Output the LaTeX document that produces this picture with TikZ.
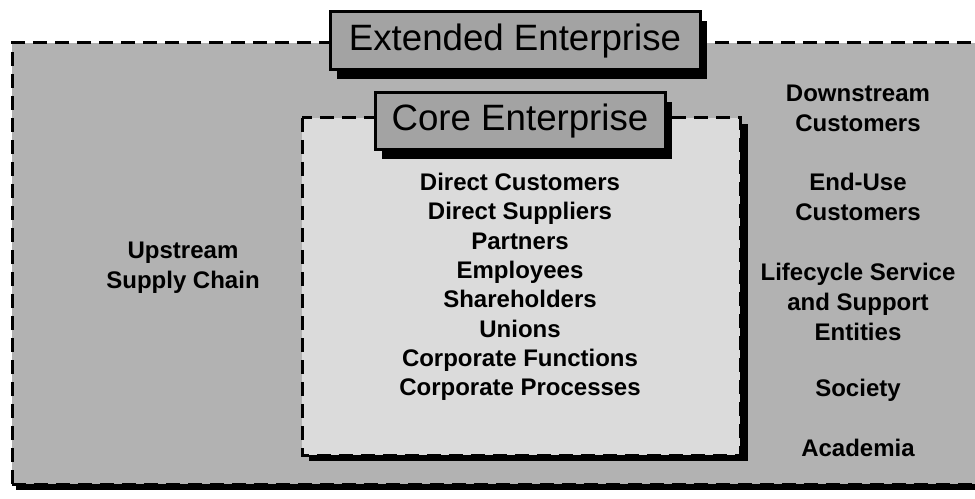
\documentclass[tikz,border=0pt]{standalone}
\usepackage{fontspec}
\setmainfont{Liberation Sans}
\usetikzlibrary{shadows}

\definecolor{extgray}{gray}{0.70}
\definecolor{coregray}{gray}{0.86}
\definecolor{titlegray}{gray}{0.64}

\begin{document}
\begin{tikzpicture}[
    x=0.75pt, y=-0.75pt,
    edge/.style={line width=2.25pt, dash pattern=on 10.5pt off 6pt},
    title/.style={draw=black, line width=2.25pt, fill=titlegray,
                  inner sep=0pt, font=\fontsize{27.5}{30}\selectfont,
                  drop shadow={shadow xshift=5.5pt, shadow yshift=-6.5pt,
                               fill=black, opacity=1}},
    lbl/.style={align=center, font=\fontsize{18}{22.5}\selectfont\bfseries},
]
\useasboundingbox (0,0) rectangle (975,499);

% extended enterprise area
\fill[black] (16,47) rectangle (994,490);
\fill[extgray] (12,43) rectangle (990,484);
\draw[edge] (12,484) -- (12,43) -- (990,43);
\draw[edge] (12,484) -- (990,484);

% core enterprise area
\fill[black] (309,124) rectangle (748,461);
\fill[coregray] (302,118) rectangle (740,455);
\draw[edge] (302,118) rectangle (740,455);

% titles
\node[title, minimum width=277.5pt, minimum height=43.5pt]
  (ext) at (515,41) {Extended Enterprise};
\node[title, minimum width=217.5pt, minimum height=42.75pt]
  (core) at (520,121.5) {Core Enterprise};

% left column
\node[lbl] (up) at (183,268) {Upstream\\Supply Chain};

% core list
\node[lbl, font=\fontsize{18}{22}\selectfont\bfseries] (members) at (520,287)
  {Direct Customers\\Direct Suppliers\\Partners\\Employees\\Shareholders\\%
   Unions\\Corporate Functions\\Corporate Processes};

% right column
\node[lbl] (down) at (858,108) {Downstream\\Customers};
\node[lbl] (enduse) at (858,197) {End-Use\\Customers};
\node[lbl] (life) at (858,302) {Lifecycle Service\\and Support\\Entities};
\node[lbl] (soc) at (858,390) {Society};
\node[lbl] (acad) at (858,448) {Academia};

\end{tikzpicture}
\end{document}
